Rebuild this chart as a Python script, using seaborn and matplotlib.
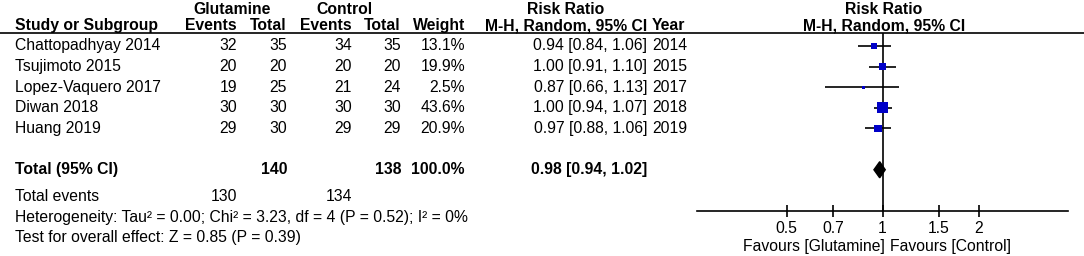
import matplotlib.pyplot as plt
import matplotlib.transforms as mtransforms
import seaborn as sns
import pandas as pd
import numpy as np

# study data
studies = ["Chattopadhyay 2014", "Tsujimoto 2015", "Lopez-Vaquero 2017", "Diwan 2018", "Huang 2019"]
glu_events = [32, 20, 19, 30, 29]
glu_total = [35, 20, 25, 30, 30]
ctl_events = [34, 20, 21, 30, 29]
ctl_total = [35, 20, 24, 30, 29]
weights = [13.1, 19.9, 2.5, 43.6, 20.9]
rr = [0.94, 1.00, 0.87, 1.00, 0.97]
ci_lo = [0.84, 0.91, 0.66, 0.94, 0.88]
ci_hi = [1.06, 1.10, 1.13, 1.07, 1.06]
years = [2014, 2015, 2017, 2018, 2019]

# pooled
total_rr, total_lo, total_hi = 0.98, 0.94, 1.02
total_glu, total_ctl = 140, 138
events_glu, events_ctl = 130, 134
heterogeneity = "Heterogeneity: Tau² = 0.00; Chi² = 3.23, df = 4 (P = 0.52); I² = 0%"
overall = "Test for overall effect: Z = 0.85 (P = 0.39)"
xticks = [0.5, 0.7, 1, 1.5, 2]
xtick_labels = ["0.5", "0.7", "1", "1.5", "2"]

df = pd.DataFrame({"study": studies, "rr": rr, "lo": ci_lo, "hi": ci_hi,
                   "weight": weights, "row": range(len(studies))})
total_row = len(studies) + 1

sns.set_style("white")
plt.rcParams["font.family"] = ["Liberation Sans", "DejaVu Sans"]
FS = 11.3

W, H = 1084, 256
fig = plt.figure(figsize=(W / 100, H / 100), dpi=100)

# table axes (x in pixels), forest axes (log scale)
ax_tab = fig.add_axes([0, 0, 1, 1])
ax_tab.set_xlim(0, W)
ax_tab.axis("off")

fx0, fx1, fy_top, fy_bot = 697, 1068, 33, 211
ax = fig.add_axes([fx0 / W, 1 - fy_bot / H, (fx1 - fx0) / W, (fy_bot - fy_top) / H])
ax.set_xscale("log")
half = np.log(4) * (fx1 - fx0) / 2 / (979 - 787)
ax.set_xlim(np.exp(-half), np.exp(half))
ax.set_ylim(8, -0.63)
ax.patch.set_alpha(0)

ax.hlines(df["row"], df["lo"], df["hi"], color="black", lw=1.2, zorder=2)
sns.scatterplot(data=df, x="rr", y="row", size="weight",
                sizes=(1.45 * min(weights), 1.45 * max(weights)),
                marker="s", color="#0000c8", linewidth=0, legend=False,
                ax=ax, zorder=3)
dh = 0.39
ax.fill([total_lo, total_rr, total_hi, total_rr],
        [total_row, total_row - dh, total_row, total_row + dh],
        color="black", zorder=3)
ax.axvline(1, color="black", lw=1.2, zorder=1)

for s in ["top", "left", "right"]:
    ax.spines[s].set_visible(False)
ax.spines["bottom"].set_color("black")
ax.spines["bottom"].set_linewidth(1.2)
ax.set_xticks(xticks)
ax.set_xticklabels(xtick_labels)
ax.xaxis.set_minor_locator(plt.NullLocator())
ax.tick_params(axis="x", bottom=True, direction="inout", length=8, width=1.2, pad=3,
               labelsize=FS, colors="black")
ax.set_yticks([])
ax.set_xlabel("")
ax.set_ylabel("")

trans = mtransforms.blended_transform_factory(ax_tab.transData, ax.transData)


def put(x, y, s, ha="right", bold=False):
    ax_tab.text(x, y, s, transform=trans, ha=ha, va="center", fontsize=FS,
                fontweight="bold" if bold else "normal", color="black")


# header
h1, h2 = -1.78, -0.97
put(232, h1, "Glutamine", ha="center", bold=True)
put(344, h1, "Control", ha="center", bold=True)
put(566, h1, "Risk Ratio", ha="center", bold=True)
put(884, h1, "Risk Ratio", ha="center", bold=True)
put(15, h2, "Study or Subgroup", ha="left", bold=True)
put(237, h2, "Events", bold=True)
put(287, h2, "Total", bold=True)
put(352, h2, "Events", bold=True)
put(401, h2, "Total", bold=True)
put(465, h2, "Weight", bold=True)
put(647, h2, "M-H, Random, 95% CI", bold=True)
put(652, h2, "Year", ha="left", bold=True)
put(884, h2, "M-H, Random, 95% CI", ha="center", bold=True)
fig.add_artist(plt.Line2D([0, 1], [1 - 33 / H, 1 - 33 / H], color="black", lw=1.2,
                          transform=fig.transFigure))

for i in range(len(studies)):
    put(15, i, studies[i], ha="left")
    put(237, i, str(glu_events[i]))
    put(287, i, str(glu_total[i]))
    put(352, i, str(ctl_events[i]))
    put(401, i, str(ctl_total[i]))
    put(465, i, f"{weights[i]:.1f}%")
    put(647, i, f"{rr[i]:.2f} [{ci_lo[i]:.2f}, {ci_hi[i]:.2f}]")
    put(652, i, str(years[i]), ha="left")

put(15, total_row, "Total (95% CI)", ha="left", bold=True)
put(287, total_row, str(total_glu), bold=True)
put(401, total_row, str(total_ctl), bold=True)
put(465, total_row, "100.0%", bold=True)
put(647, total_row, f"{total_rr:.2f} [{total_lo:.2f}, {total_hi:.2f}]", bold=True)
put(15, 7.32, "Total events", ha="left")
put(237, 7.32, str(events_glu))
put(352, 7.32, str(events_ctl))
put(15, 8.3, heterogeneity, ha="left")
put(15, 9.27, overall, ha="left")

ax.text(1.017, -0.197, "Favours [Glutamine]", transform=ax.get_xaxis_transform(),
        ha="right", va="center", fontsize=FS, color="black")
ax.text(1.054, -0.197, "Favours [Control]", transform=ax.get_xaxis_transform(),
        ha="left", va="center", fontsize=FS, color="black")

fig.savefig("out.png", dpi=100)
